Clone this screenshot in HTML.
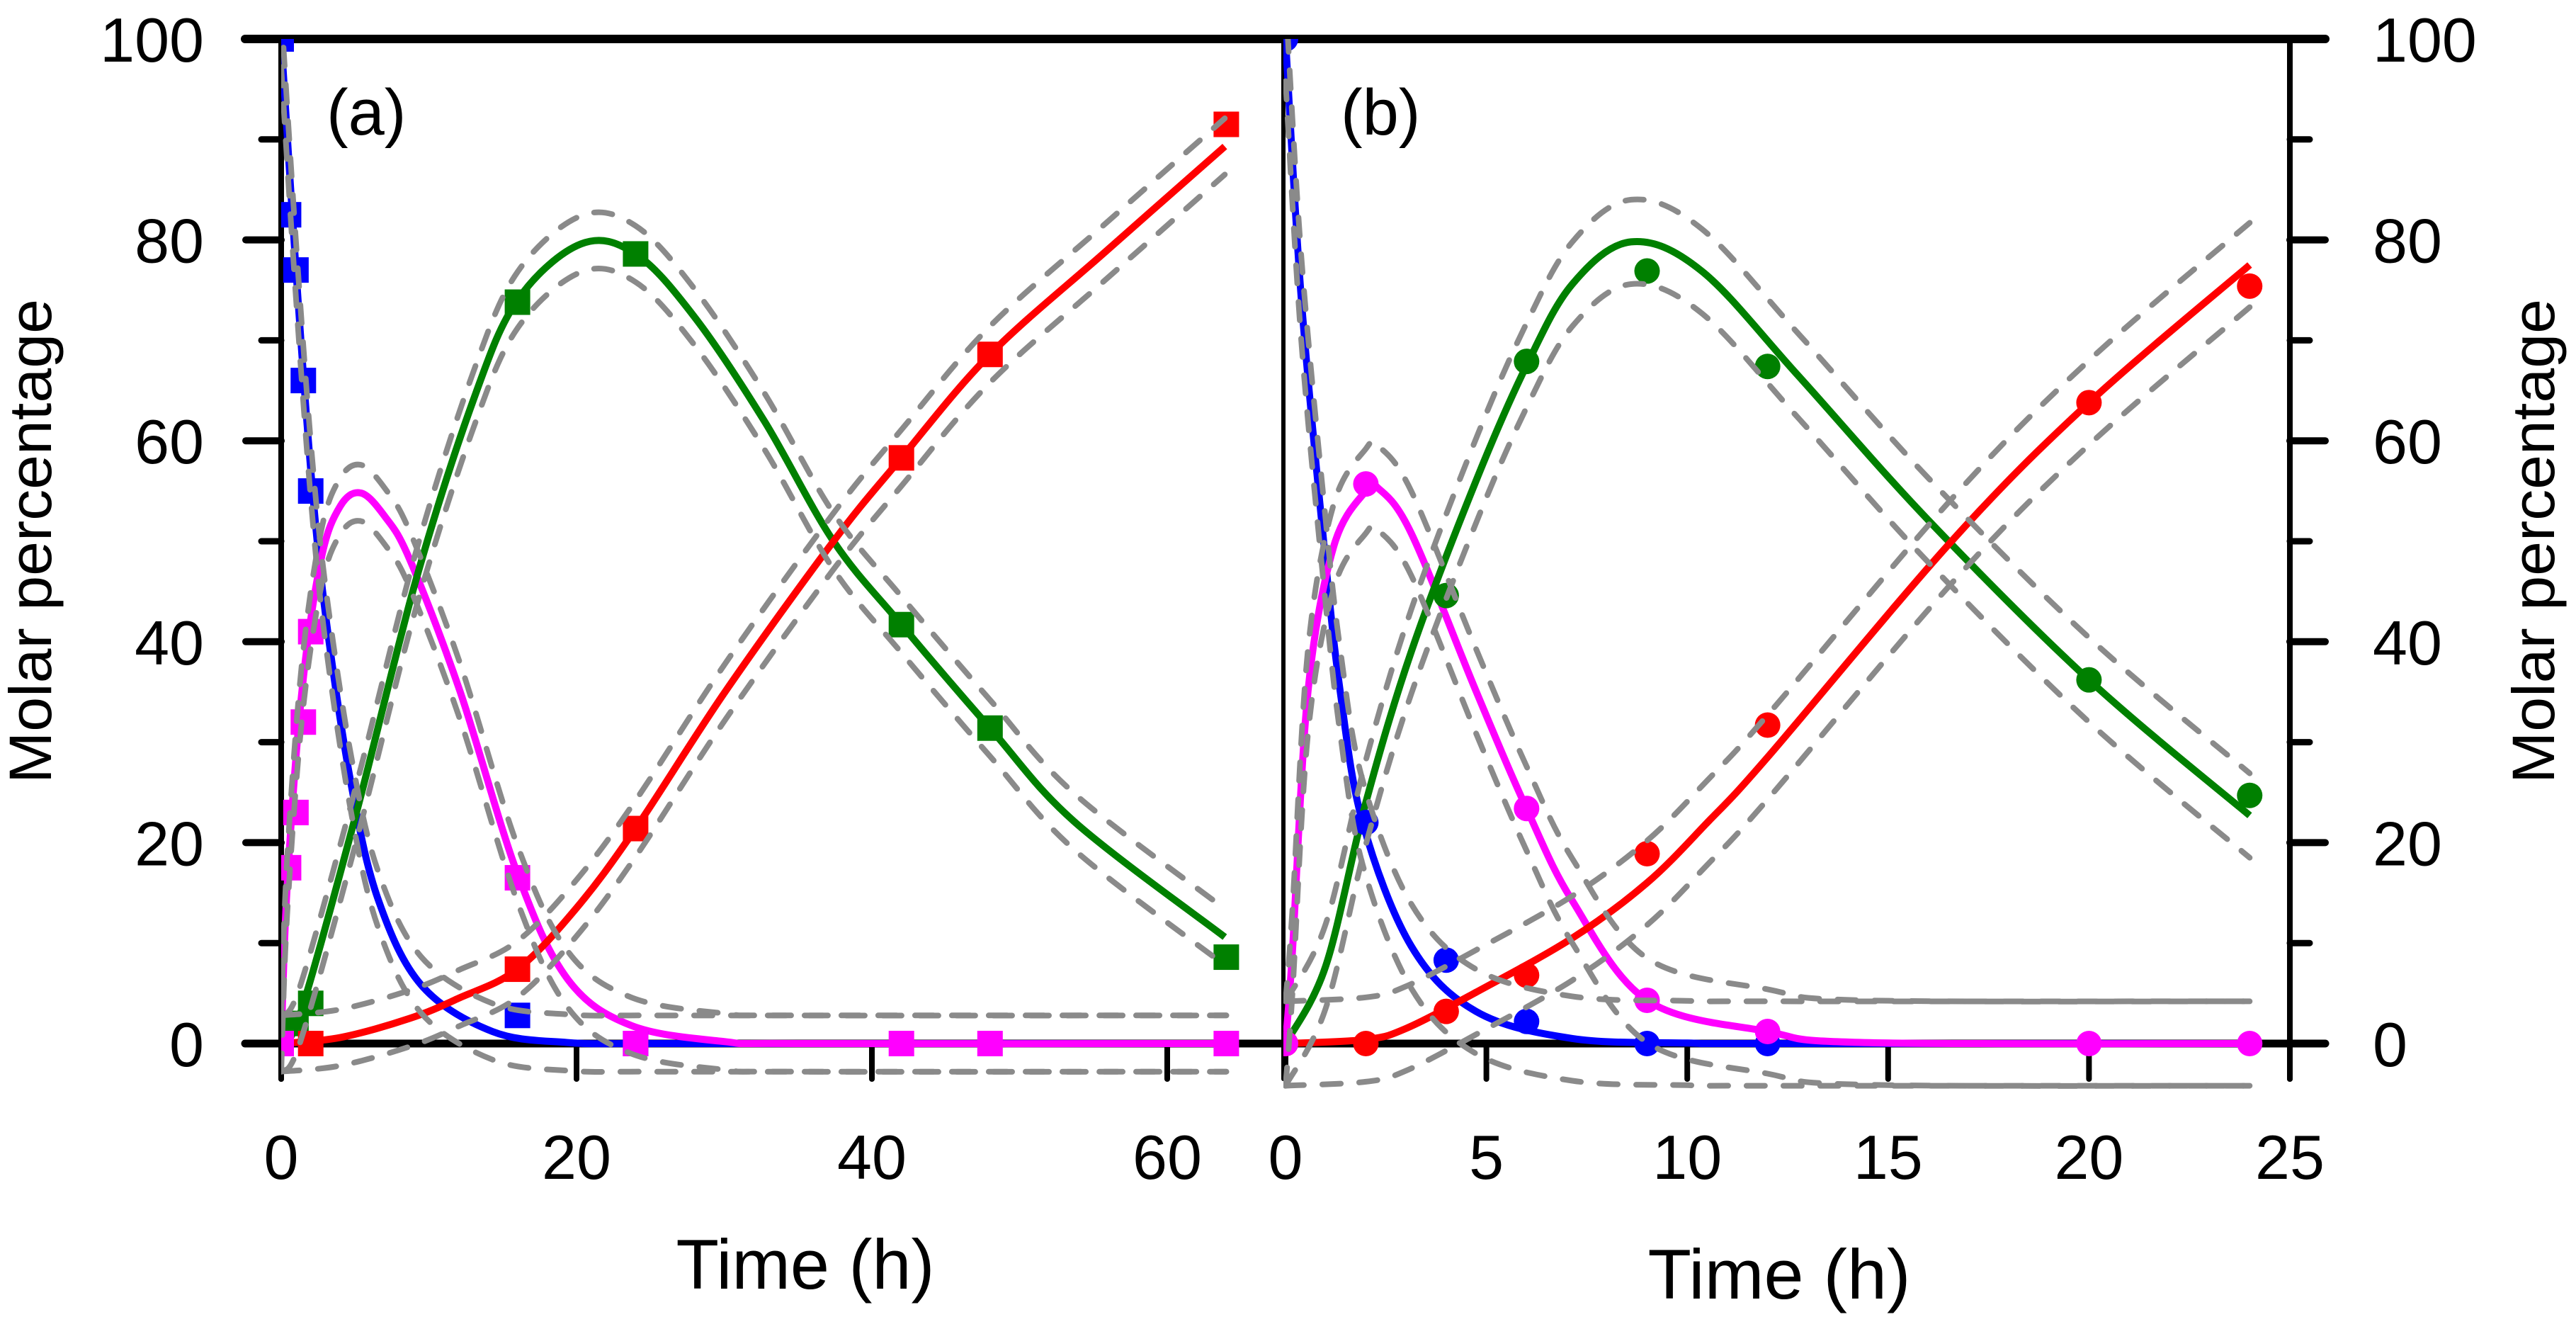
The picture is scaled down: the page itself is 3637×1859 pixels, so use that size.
<!DOCTYPE html>
<html><head><meta charset="utf-8"><style>
html,body{margin:0;padding:0;background:#fff}
svg{display:block}
text{font-family:"Liberation Sans",Arial,sans-serif;fill:#000}
</style></head><body>
<svg id="chart" width="3637" height="1859" viewBox="0 0 3637 1859" xmlns="http://www.w3.org/2000/svg">
<defs>
<clipPath id="clipA"><rect x="397" y="55" width="1415" height="1500"/></clipPath>
<clipPath id="clipB"><rect x="1812" y="55" width="1421" height="1500"/></clipPath>
</defs>
<g id="frame"></g>
<g id="panelA" clip-path="url(#clipA)"></g>
<g id="panelB" clip-path="url(#clipB)"></g>
<g id="labels">
<text x="461" y="190" font-size="92">(a)</text>
<text x="1893" y="190" font-size="92">(b)</text>
<text x="1137" y="1819" font-size="99" text-anchor="middle" textLength="365" lengthAdjust="spacingAndGlyphs">Time (h)</text>
<text x="2512" y="1833" font-size="99" text-anchor="middle" textLength="371" lengthAdjust="spacingAndGlyphs">Time (h)</text>
<text transform="translate(72,764) rotate(-90)" font-size="84" text-anchor="middle" textLength="684" lengthAdjust="spacingAndGlyphs">Molar percentage</text>
<text transform="translate(3606,764) rotate(-90)" font-size="84" text-anchor="middle" textLength="684" lengthAdjust="spacingAndGlyphs">Molar percentage</text>
</g>
</svg>
<script>
// ---------- data: panel (a) ----------
const aDataT_blue = [0,0.5,1,1.5,2,16,24];
const aDataV_blue = [100,82.5,77,66,55,2.8,0];
const aDataT_mag = [0,0.5,1,1.5,2,16,24,42,48,64];
const aDataV_mag = [0,17.5,23,32,41,16.5,0,0,0,0];
const aDataT_green = [0,1,2,16,24,42,48,64];
const aDataV_green = [0,2,4,73.8,78.6,41.7,31.4,8.6];
const aDataT_red = [0,2,16,24,42,48,64];
const aDataV_red = [0,0,7.4,21.4,58.3,68.6,91.5];
const aFitT_blue = [0,1,2.1,3.1,4.8,6.6,9.5,14.3,19.4,25,40,64];
const aFitV_blue = [100,77,55.4,41.6,25.3,14.2,5.8,1.2,0.1,0,0,0];
const aFitT_mag = [0,0.4,1.4,2.7,4,5.4,7,8.7,12.1,16,19.4,23.7,30,35,64];
const aFitV_mag = [0,15.5,35,48.2,53.5,54.8,52.5,48.2,35.1,16.9,6.4,1.8,0.2,0,0];
const aFitT_green = [0,1.3,5.1,9.1,13,16,20.3,24,28,32.7,37.4,42,48,53.7,63.9];
const aFitV_green = [0,3,23,46,64,74,79.6,78.6,72.3,62,50,41.7,31.4,22.1,10.6];
const aFitT_red = [0,4,8.7,12,16,20,24,30.1,37.4,42,48,55.8,63.9];
const aFitV_red = [0,0.6,2.5,4.5,7.4,13.5,21.4,35.1,50,58.3,68.6,78.8,89.3];
const aBand = 2.8;
// ---------- data: panel (b) ----------
const bDataT_blue = [0,2,4,6,9,12];
const bDataV_blue = [100,22,8.3,2.2,0,0];
const bDataT_mag = [0,2,6,9,12,20,24];
const bDataV_mag = [0,55.7,23.4,4.3,1.2,0,0];
const bDataT_green = [0,4,6,9,12,20,24];
const bDataV_green = [0,44.6,67.9,76.9,67.4,36.2,24.7];
const bDataT_red = [0,2,4,6,9,12,20,24];
const bDataV_red = [0,0,3.2,6.8,18.9,31.7,63.8,75.4];
const bFitT_blue = [0,0.39,0.96,1.36,1.92,3.13,4.74,7.14,10,12,24];
const bFitV_blue = [100,74.3,49.5,35.1,22,9.7,3.2,0.5,0.05,0,0];
const bFitT_mag = [0,0.17,0.56,1.2,2,2.3,3.13,4.74,6,7.14,9,12,14.4,24];
const bFitV_mag = [0,9,35.1,49.5,55,55.3,50.8,35.1,23.4,14.2,4.3,1.2,0.1,0];
const bFitT_green = [0,1,2,3.13,4.74,6,7.14,8.6,10.36,12.78,16,20,24];
const bFitV_green = [0,7.7,24,39,56,67.5,75.6,79.8,76.9,66.4,52.1,36.2,22.7];
const bFitT_red = [0,2,3,4.74,7.14,9,10.5,12,16.6,20,24];
const bFitV_red = [0,0.4,1.5,5.1,10.5,16,22,28.5,50.1,63.8,77.5];
const bBand = 4.2;
const yTicks = [0,20,40,60,80,100];
const aXTicks = [0,20,40,60];
const bXTicks = [0,5,10,15,20,25];

const NS = "http://www.w3.org/2000/svg";
const Y0 = 1473, Y100 = 55;
function yS(v){ return Y0 - (Y0 - Y100) * v / 100; }
function xA(t){ return 397 + t * (1648 - 397) / 60; }
function xB(t){ return 1815 + t * (3233 - 1815) / 25; }
function mk(tag, attrs, parent){
  const e = document.createElementNS(NS, tag);
  for (const k in attrs) e.setAttribute(k, attrs[k]);
  parent.appendChild(e); return e;
}
function smoothPath(xs, ys){
  let d = "M" + xs[0].toFixed(1) + "," + ys[0].toFixed(1);
  for (let i = 0; i < xs.length - 1; i++){
    const x0 = xs[Math.max(i-1,0)], y0 = ys[Math.max(i-1,0)];
    const x1 = xs[i], y1 = ys[i], x2 = xs[i+1], y2 = ys[i+1];
    const x3 = xs[Math.min(i+2,xs.length-1)], y3 = ys[Math.min(i+2,xs.length-1)];
    const c1x = x1 + (x2 - x0)/6, c1y = y1 + (y2 - y0)/6;
    const c2x = x2 - (x3 - x1)/6, c2y = y2 - (y3 - y1)/6;
    d += " C" + c1x.toFixed(1)+","+c1y.toFixed(1)+" "+c2x.toFixed(1)+","+c2y.toFixed(1)+" "+x2.toFixed(1)+","+y2.toFixed(1);
  }
  return d;
}
const frame = document.getElementById("frame");
function line(x1,y1,x2,y2,w,name){
  const l = mk("line",{x1:x1,y1:y1,x2:x2,y2:y2,stroke:"#000","stroke-width":w,"stroke-linecap":"round"},frame);
  
  
}
line(346,55,3283,55,12,"top-border");
line(346,1473,3283,1473,11,"x-axis-line");
line(397,55,397,1523,8,"y-axis-left");
line(1812,55,1812,1523,6,"panel-divider");
line(3233,55,3233,1523,8,"y-axis-right");
for (let v = 0; v <= 100; v += 10){
  const major = v % 20 === 0;
  const len = major ? 50 : 28;
  line(397-len, yS(v), 397, yS(v), major ? 10 : 9, "y-tick-left");
  line(3233, yS(v), 3233+len, yS(v), major ? 10 : 9, "y-tick-right");
}
yTicks.forEach(v => {
  const t1 = mk("text",{x:288,y:yS(v)+32,"font-size":88,"text-anchor":"end"},frame);
  t1.textContent = v;
  
  
  const t2 = mk("text",{x:3350,y:yS(v)+32,"font-size":88,"text-anchor":"start"},frame);
  t2.textContent = v;
  
  
});
aXTicks.forEach(t => {
  line(xA(t),1473,xA(t),1523,8,"x-tick-a");
  const tx = mk("text",{x:xA(t),y:1664,"font-size":88,"text-anchor":"middle"},frame);
  tx.textContent = t;
  
  
});
bXTicks.forEach(t => {
  line(xB(t),1473,xB(t),1523,8,"x-tick-b");
  const tx = mk("text",{x:xB(t),y:1664,"font-size":88,"text-anchor":"middle"},frame);
  tx.textContent = t;
  
  
});

const colors = {blue:"#0000ff", mag:"#ff00ff", green:"#008000", red:"#ff0000"};
function drawPanel(g, xf, fits, datas, band, shape){
  fits.forEach(f => {
    const xs = f.t.map(xf), ys = f.v.map(yS);
    const p = mk("path",{d:smoothPath(xs,ys),fill:"none",stroke:colors[f.c],"stroke-width":10,"stroke-linejoin":"round"},g);
    
    
  });
  datas.forEach(d => {
    d.t.forEach((t,i) => {
      const cx = xf(t), cy = yS(d.v[i]);
      let m;
      if (shape === "square") m = mk("rect",{x:cx-18,y:cy-18,width:36,height:36,fill:colors[d.c]},g);
      else m = mk("circle",{cx:cx,cy:cy,r:18,fill:colors[d.c]},g);
      
      
    });
  });
  fits.forEach(f => {
    [band, -band].forEach(off => {
      const xs = f.t.map(xf), ys = f.v.map(v => yS(v + off));
      const p = mk("path",{d:smoothPath(xs,ys),fill:"none",stroke:"#8a8a8a","stroke-width":8,"stroke-dasharray":"26 26","stroke-linecap":"round"},g);
      
      
    });
  });
}
drawPanel(document.getElementById("panelA"), xA,
  [{t:aFitT_blue,v:aFitV_blue,c:"blue"},{t:aFitT_mag,v:aFitV_mag,c:"mag"},{t:aFitT_green,v:aFitV_green,c:"green"},{t:aFitT_red,v:aFitV_red,c:"red"}],
  [{t:aDataT_green,v:aDataV_green,c:"green"},{t:aDataT_red,v:aDataV_red,c:"red"},{t:aDataT_blue,v:aDataV_blue,c:"blue"},{t:aDataT_mag,v:aDataV_mag,c:"mag"}],
  aBand, "square");
drawPanel(document.getElementById("panelB"), xB,
  [{t:bFitT_blue,v:bFitV_blue,c:"blue"},{t:bFitT_mag,v:bFitV_mag,c:"mag"},{t:bFitT_green,v:bFitV_green,c:"green"},{t:bFitT_red,v:bFitV_red,c:"red"}],
  [{t:bDataT_green,v:bDataV_green,c:"green"},{t:bDataT_red,v:bDataV_red,c:"red"},{t:bDataT_blue,v:bDataV_blue,c:"blue"},{t:bDataT_mag,v:bDataV_mag,c:"mag"}],
  bBand, "circle");
</script>
</body></html>
